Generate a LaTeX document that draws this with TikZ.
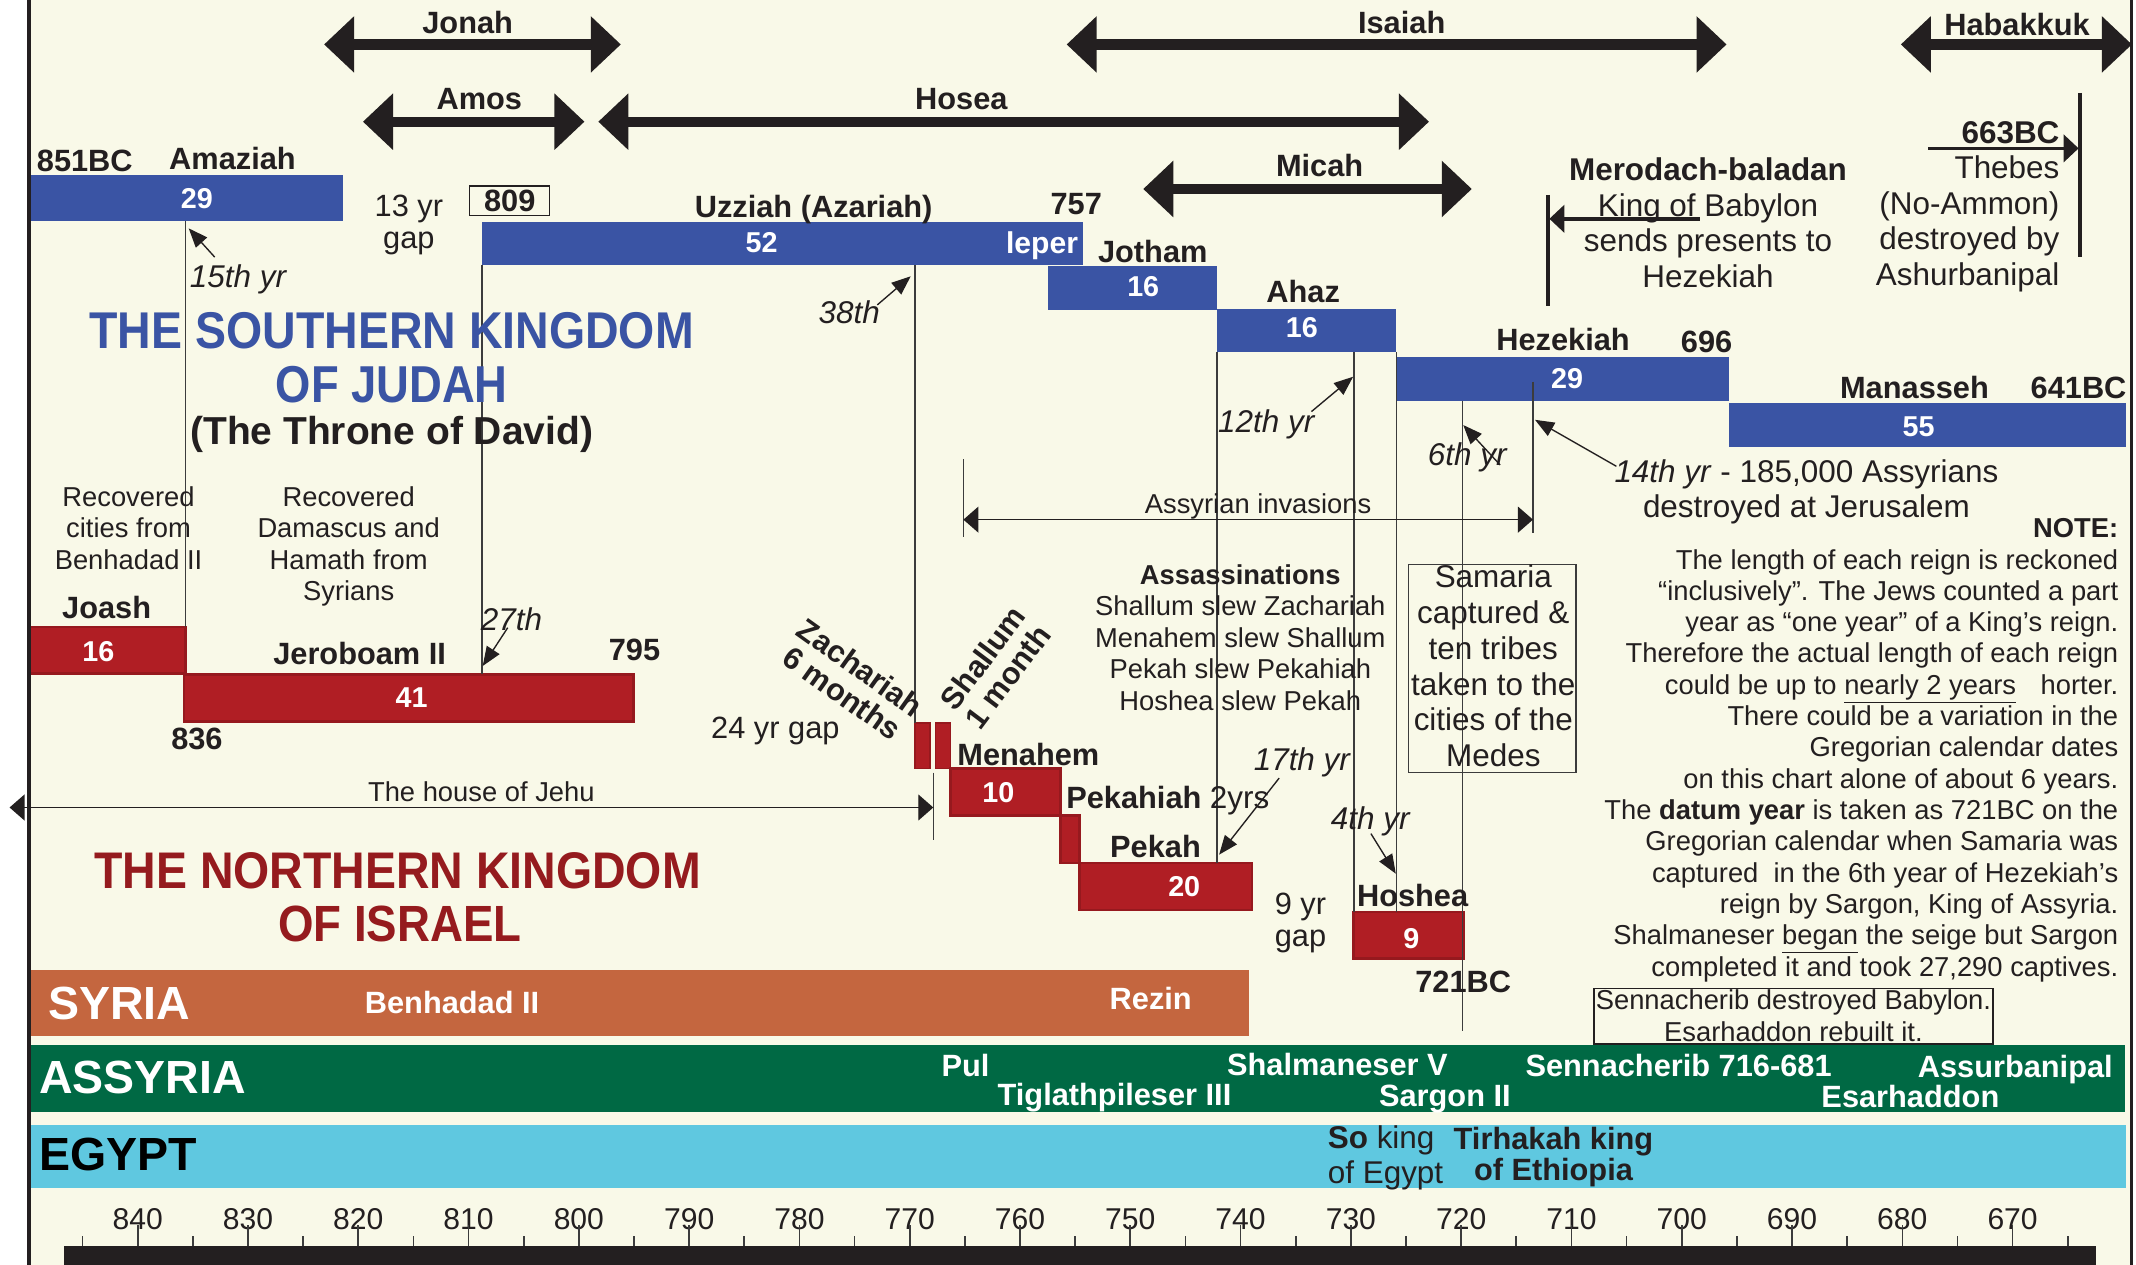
\documentclass[tikz,border=0pt]{standalone}
\usepackage{fontspec}
\setmainfont{Liberation Sans}
\usetikzlibrary{arrows.meta}
\definecolor{cream}{RGB}{249,249,232}
\definecolor{ink}{RGB}{35,31,32}
\definecolor{lgray}{RGB}{60,60,60}
\definecolor{jblue}{RGB}{58,84,164}
\definecolor{ired}{RGB}{176,30,36}
\definecolor{iredd}{RGB}{150,25,30}
\definecolor{syr}{RGB}{196,102,63}
\definecolor{assy}{RGB}{0,105,68}
\definecolor{egy}{RGB}{95,200,224}
\definecolor{tred}{RGB}{149,27,30}
\begin{document}
\begin{tikzpicture}[x=1pt,y=-1pt]
\tikzset{
  txt/.style={inner sep=0pt, outer sep=0pt, text=ink},
  lab/.style={txt, font=\bfseries\fontsize{22.5}{26}\selectfont, text height=16.2pt, text depth=0pt},
  num/.style={inner sep=0pt, outer sep=0pt, text=white, font=\bfseries\fontsize{21}{24}\selectfont, text height=15.1pt, text depth=0pt},
  yrl/.style={txt, font=\itshape\fontsize{23}{26}\selectfont, text height=16.5pt, text depth=0pt},
  regt/.style={txt, font=\fontsize{22.5}{26}\selectfont, text height=16.2pt, text depth=0pt},
  smallt/.style={txt, font=\fontsize{20}{23}\selectfont, text height=14.4pt, text depth=0pt},
  note/.style={txt, font=\fontsize{20}{23}\selectfont, align=center},
  gapl/.style={txt, font=\fontsize{22.5}{23.3}\selectfont, align=center},
  rot/.style={txt, font=\bfseries\fontsize{22.5}{23}\selectfont, align=center},
  bar/.style={inner sep=0pt, outer sep=0pt, anchor=north west},
  bluebar/.style={bar, fill=jblue},
  redbar/.style={bar, fill=ired, draw=iredd, line width=2pt},
  thinbar/.style={bar, fill=ired, draw=iredd, line width=1.2pt},
  band/.style={bar, fill=#1},
  bandlab/.style={inner sep=0pt, outer sep=0pt, anchor=west, font=\bfseries\fontsize{34}{36}\selectfont, text height=24.5pt, text depth=0pt},
  bandtxt/.style={inner sep=0pt, outer sep=0pt, text=white, font=\bfseries\fontsize{22.5}{26}\selectfont, text height=16.2pt, text depth=0pt},
  axl/.style={txt, font=\fontsize{22}{24}\selectfont, text height=15.8pt, text depth=0pt},
  vline/.style={draw=lgray, line width=1pt},
  ptr/.style={draw=ink, line width=1pt, -{Triangle[length=14pt,width=11pt]}},
  span/.style={draw=ink, line width=1pt, {Triangle[length=11pt,width=19pt]}-{Triangle[length=11pt,width=19pt]}},
  prophet/.style={draw=ink, line width=7.5pt, {Triangle[length=22pt,width=40pt]}-{Triangle[length=22pt,width=40pt]}},
  heavy/.style={draw=ink, line width=2.5pt},
  harrow/.style={heavy, -{Triangle[length=11pt,width=20pt]}},
  tickl/.style={draw=lgray, line width=1.2pt},
  boxed/.style={draw=#1, line width=1pt, inner sep=0pt, outer sep=0pt, anchor=north west},
  ttl/.style={inner sep=0pt, outer sep=0pt, anchor=south west, font=\bfseries},
}
\useasboundingbox (0,0) rectangle (1562,925);
\fill[white] (0,0) rectangle (1562,925);
\fill[cream] (21,0) rectangle (1558.5,925);

% ---------- prophets ----------
\coordinate (jonL) at (237,32.5);   \coordinate (jonR) at (454,32.5);
\coordinate (amoL) at (265.4,89);   \coordinate (amoR) at (427.4,89);
\coordinate (hosL) at (437.5,89);   \coordinate (hosR) at (1045,89);
\coordinate (isaL) at (780,32.5);   \coordinate (isaR) at (1262.6,32.5);
\coordinate (micL) at (836,138.2);  \coordinate (micR) at (1076.3,138.2);
\coordinate (habL) at (1390,32.5);  \coordinate (habR) at (1559,32.5);
\draw[prophet] (jonL) -- (jonR);
\draw[prophet] (amoL) -- (amoR);
\draw[prophet] (hosL) -- (hosR);
\draw[prophet] (isaL) -- (isaR);
\draw[prophet] (micL) -- (micR);
\draw[prophet] (habL) -- (habR);
\node[lab] (jonah) at (342,16.5) {Jonah};
\node[lab] (amos) at (350.5,72) {Amos};
\node[lab] (hosea) at (703,72) {Hosea};
\node[lab] (isaiah) at (1025,16.5) {Isaiah};
\node[lab] (micah) at (965,121) {Micah};
\node[lab] (habakkuk) at (1475,17.5) {Habakkuk};

% ---------- bands ----------
\node[band=syr, minimum width=891pt, minimum height=48.5pt] (syria) at (22,709) {};
\node[band=assy, minimum width=1532pt, minimum height=49pt] (assyria) at (22,764) {};
\node[band=egy, minimum width=1533pt, minimum height=45.5pt] (egypt) at (22,823) {};
\node[bandlab, text=white] (syrl) at (35.3,733.5) {SYRIA};
\node[bandlab, text=white] (assl) at (28.6,787.5) {ASSYRIA};
\node[bandlab, text=black] (egyl) at (28.6,843.7) {EGYPT};
\node[bandtxt] (benh) at (330.6,733) {Benhadad II};
\node[bandtxt] (rezin) at (841.5,730) {Rezin};
\node[bandtxt] (pul) at (706,779) {Pul};
\node[bandtxt] (tig) at (815,800) {Tiglathpileser III};
\node[bandtxt] (shalv) at (978,778.5) {Shalmaneser V};
\node[bandtxt] (sarg) at (1056.6,800.7) {Sargon II};
\node[bandtxt] (senn) at (1227.5,779) {Sennacherib 716-681};
\node[bandtxt] (assur) at (1473.7,780) {Assurbanipal};
\node[bandtxt] (esar) at (1397,802) {Esarhaddon};
\node[txt, font=\fontsize{23}{25.7}\selectfont, align=left, anchor=west] (soking) at (971,847) {\textbf{So} king\\of Egypt};
\node[txt, font=\bfseries\fontsize{22.5}{23}\selectfont, align=center] (tirh) at (1136,846) {Tirhakah king\\of Ethiopia};

% ---------- Judah bars ----------
\node[bluebar, minimum width=228.5pt, minimum height=33.5pt] (amz) at (22,128) {};
\node[bluebar, minimum width=439.5pt, minimum height=32pt] (uzz) at (352.5,162) {};
\node[bluebar, minimum width=124pt, minimum height=32.5pt] (jot) at (766,194.5) {};
\node[bluebar, minimum width=131pt, minimum height=31.5pt] (ahaz) at (890,226) {};
\node[bluebar, minimum width=243pt, minimum height=32pt] (hez) at (1021,261) {};
\node[bluebar, minimum width=291pt, minimum height=32pt] (man) at (1264,295) {};

% ---------- Israel bars ----------
\node[redbar, minimum width=113.5pt, minimum height=34pt] (joash) at (22,458.5) {};
\node[redbar, minimum width=329pt, minimum height=34.5pt] (jero) at (134.5,493) {};
\node[thinbar, minimum width=11pt, minimum height=33.5pt] (zach) at (669,528.5) {};
\node[thinbar, minimum width=11pt, minimum height=33.5pt] (shal) at (684,528.5) {};
\node[redbar, minimum width=80.5pt, minimum height=34.5pt] (men) at (695,562) {};
\node[redbar, minimum width=14pt, minimum height=34.5pt] (pkh) at (775.5,596.5) {};
\node[redbar, minimum width=126pt, minimum height=34.5pt] (pek) at (789.5,631) {};
\node[redbar, minimum width=80pt, minimum height=34pt] (hosh) at (990,667) {};

% ---------- numbers in bars ----------
\node[num] (n29a) at (144,145) {29};
\node[num] (n52) at (557,177) {52};
\node[num, font=\bfseries\fontsize{22}{24}\selectfont] (leper) at (762,178) {leper};
\node[num] (n16j) at (836,209) {16};
\node[num] (n16a) at (952,239) {16};
\node[num] (n29h) at (1146,276.5) {29};
\node[num] (n55) at (1403,312) {55};
\node[num] (n16) at (72,476) {16};
\node[num] (n41) at (301,510) {41};
\node[num] (n10) at (730,579) {10};
\node[num] (n20) at (866,648) {20};
\node[num] (n9) at (1032,686) {9};

% ---------- vertical guide lines ----------
\coordinate (c721) at (1069.5,754);
\coordinate (c14a) at (1121,279);  \coordinate (c14b) at (1121,390);
\coordinate (invT) at (704.5,336); \coordinate (invB) at (704.5,392.5);
\coordinate (jehT) at (682.5,565); \coordinate (jehB) at (682.5,614);
\draw[vline] (joash.north east |- amz.south) -- (joash.north east);
\draw[vline] (uzz.south west) -- (uzz.south west |- jero.north);
\draw[vline] (zach.north west |- uzz.south) -- (zach.north west);
\draw[vline] (ahaz.south west) -- (ahaz.south west |- pek.north);
\draw[vline] (hosh.north west |- ahaz.south) -- (hosh.north west);
\draw[vline] (ahaz.south east) -- (ahaz.south east |- hosh.north);
\draw[vline] (c721 |- hez.south) -- (c721);
\draw[vline] (c14a) -- (c14b);
\draw[vline] (invT) -- (invB);
\draw[vline] (jehT) -- (jehB);

% ---------- spans ----------
\coordinate (invL) at (704.5,380); \coordinate (invR) at (1121,380);
\draw[span] (invL) -- (invR);
\node[smallt] (invt) at (920,368.5) {Assyrian invasions};
\coordinate (jehL) at (7,590.5); \coordinate (jehR) at (682.5,590.5);
\draw[span] (jehL) -- (jehR);
\node[smallt] (jehu) at (352,579) {The house of Jehu};

% ---------- pointer arrows ----------
\coordinate (p15t) at (157,188);     \coordinate (p15h) at (138,167);
\coordinate (p27t) at (371.3,459);   \coordinate (p27h) at (353,487);
\coordinate (p38t) at (641.5,223);   \coordinate (p38h) at (666,202);
\coordinate (p12t) at (959,301);     \coordinate (p12h) at (989.5,275.5);
\coordinate (p6t) at (1097,340);     \coordinate (p6h) at (1070,310.8);
\coordinate (p14t) at (1182,341);    \coordinate (p14h) at (1122.5,307);
\coordinate (p17t) at (935.4,569);   \coordinate (p17h) at (891.5,625);
\coordinate (p4t) at (1002.5,609.6); \coordinate (p4h) at (1020.7,638.9);
\draw[ptr] (p15t) -- (p15h);
\draw[ptr] (p27t) -- (p27h);
\draw[ptr] (p38t) -- (p38h);
\draw[ptr] (p12t) -- (p12h);
\draw[ptr] (p6t) -- (p6h);
\draw[ptr] (p14t) -- (p14h);
\draw[ptr] (p17t) -- (p17h);
\draw[ptr] (p4t) -- (p4h);
\node[yrl] (y15) at (174,202) {15th yr};
\node[yrl] (y27) at (374,453) {27th};
\node[yrl] (y38) at (621,228) {38th};
\node[yrl] (y12) at (926,308) {12th yr};
\node[yrl] (y6) at (1073,332) {6th yr};
\node[yrl] (y17) at (952,555) {17th yr};
\node[yrl] (y4) at (1002,598) {4th yr};

% ---------- Judah labels ----------
\node[lab] (bc851) at (62,117) {851BC};
\node[lab] (amzl) at (170,116) {Amaziah};
\node[gapl] (gap13) at (299,164.7) {13 yr\\gap};
\node[lab, draw=ink, line width=1pt, minimum width=58.5pt, minimum height=21.7pt, text height=16.2pt] (b809) at (372.75,146.85) {809};
\node[lab] (uzzl) at (595,151) {Uzziah (Azariah)};
\node[lab] (y757) at (787,149) {757};
\node[lab] (jotl) at (843,184) {Jotham};
\node[lab] (ahazl) at (953,213) {Ahaz};
\node[lab] (hezl) at (1143,248) {Hezekiah};
\node[lab] (y696) at (1248,250) {696};
\node[lab] (manl) at (1400,283) {Manasseh};
\node[lab] (bc641) at (1520,283) {641BC};

% ---------- Israel labels ----------
\node[note] (rec1) at (94,386) {Recovered\\cities from\\Benhadad II};
\node[note] (rec2) at (255,399.5) {Recovered\\Damascus and\\Hamath from\\Syrians};
\node[lab] (joashl) at (78,444) {Joash};
\node[lab] (jerol) at (263,478) {Jeroboam II};
\node[lab] (y795) at (464,475) {795};
\node[lab] (y836) at (144,540) {836};
\node[regt] (gap24) at (567,532) {24 yr gap};
\node[rot, rotate=-35.5] (zachl) at (622.5,497.5) {Zachariah\\6 months};
\node[rot, rotate=53] (shall) at (727.7,488) {Shallum\\1 month};
\node[lab] (menl) at (752,552) {Menahem};
\node[lab] (pkhl) at (854,583) {Pekahiah {\mdseries\fontsize{23}{26}\selectfont 2yrs}};
\node[lab] (pekl) at (845,619) {Pekah};
\node[gapl] (gap9) at (951,674.8) {9 yr\\gap};
\node[lab] (hoshl) at (1033,655) {Hoshea};
\node[lab] (bc721) at (1070,718) {721BC};
\node[note] (assn) at (907,466.2) {\textbf{Assassinations}\\Shallum slew Zachariah\\Menahem slew Shallum\\Pekah slew Pekahiah\\Hoshea slew Pekah};
\node[boxed=lgray, minimum width=122.5pt, minimum height=152pt] (sambox) at (1030,413) {};
\node[txt, font=\fontsize{23}{26.1}\selectfont, align=center] (samt) at (1092,487) {Samaria\\captured \&\\ten tribes\\taken to the\\cities of the\\Medes};

% ---------- titles ----------
\node[ttl, text=jblue] (st1) at (65.5,255.4) {\resizebox{441.9pt}{26.4pt}{THE SOUTHERN KINGDOM}};
\node[ttl, text=jblue] (st2) at (201.6,294.5) {\resizebox{169.7pt}{26.5pt}{OF JUDAH}};
\node[txt, font=\bfseries\fontsize{28.5}{30}\selectfont] (st3) at (286.4,318) {(The Throne of David)};
\node[ttl, text=tred] (nt1) at (68.9,650.3) {\resizebox{443.5pt}{26.3pt}{THE NORTHERN KINGDOM}};
\node[ttl, text=tred] (nt2) at (203.3,689) {\resizebox{178pt}{26pt}{OF ISRAEL}};

% ---------- right side texts ----------
\node[txt, font=\fontsize{23}{26}\selectfont, align=center] (mero) at (1249,163) {\textbf{Merodach-baladan}\\King of Babylon\\sends presents to\\Hezekiah};
\coordinate (meroA) at (1243,160); \coordinate (meroB) at (1133,160);
\coordinate (meroT) at (1132,142.6); \coordinate (meroU) at (1132,224);
\draw[heavy] (meroT) -- (meroU);
\draw[harrow] (meroA) -- (meroB);
\node[txt, font=\fontsize{23}{26}\selectfont, align=right, anchor=east] (thebes) at (1506,151) {\textbf{663BC}\\Thebes\\(No-Ammon)\\destroyed by\\Ashurbanipal};
\coordinate (thA) at (1410,108.5); \coordinate (thB) at (1520,108.5);
\coordinate (thT) at (1521,68); \coordinate (thU) at (1521,188);
\draw[heavy] (thT) -- (thU);
\draw[harrow] (thA) -- (thB);
\node[txt, font=\fontsize{23}{25.5}\selectfont, align=center] (n14) at (1321,360) {\textit{14th yr} - 185,000 Assyrians\\destroyed at Jerusalem};
\node[txt, font=\fontsize{20}{22.9}\selectfont, align=right, anchor=east] (notes) at (1549,548.6) {\textbf{NOTE:}\\
The length of each reign is reckoned\\
“inclusively”. The Jews counted a part\\
year as “one year” of a King’s reign.\\
Therefore the actual length of each reign\\
could be up to \underline{nearly 2 years}\hspace{0.9em}horter.\\
There could be a variation in the\\
Gregorian calendar dates\\
on this chart alone of about 6 years.\\
The \textbf{datum year} is taken as 721BC on the\\
Gregorian calendar when Samaria was\\
captured\ \ in the 6th year of Hezekiah’s\\
reign by Sargon, King of Assyria.\\
Shalmaneser \underline{began} the seige but Sargon\\
completed it and took 27,290 captives.};
\node[boxed=ink, minimum width=292pt, minimum height=40.5pt] (sennbox) at (1165.5,723) {};
\node[note] (senn2) at (1311.5,742.6) {Sennacherib destroyed Babylon.\\Esarhaddon rebuilt it.};

% ---------- frame and axis ----------
\draw[ink, line width=3pt] (21,0) -- (21,925);
\draw[ink, line width=2.5pt] (1558.5,0) -- (1558.5,925);
\fill[ink] (47,911) rectangle (1533,925);
\foreach \yr in {840,830,...,670} {
  \pgfmathsetmacro{\xx}{100.7+(840-\yr)*8.065}
  \node[axl] (t\yr) at (\xx,891) {\yr};
  \draw[tickl] (\xx,896) -- (\xx,911);
}
\foreach \yr in {845,835,...,665} {
  \pgfmathsetmacro{\xx}{100.7+(840-\yr)*8.065}
  \draw[tickl] (\xx,904) -- (\xx,911);
}
\end{tikzpicture}
\end{document}
